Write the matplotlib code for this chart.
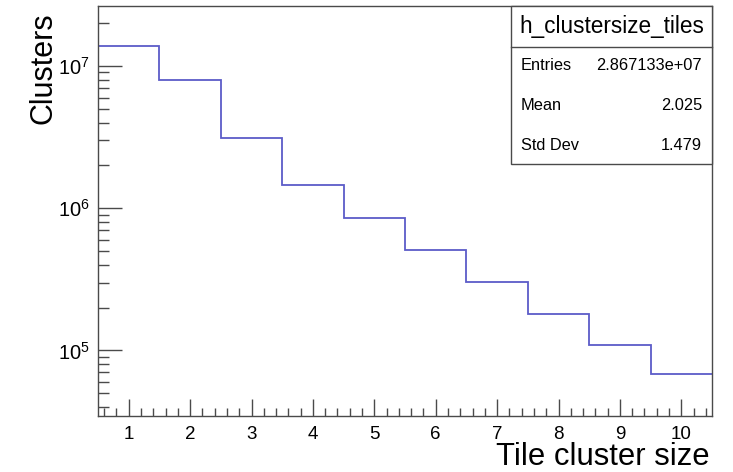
import numpy as np
import matplotlib
matplotlib.use("Agg")
import matplotlib.pyplot as plt
from matplotlib.patches import Rectangle
from matplotlib.ticker import FixedLocator, NullFormatter, FixedFormatter

plt.rcParams['font.family'] = ['Liberation Sans', 'DejaVu Sans']
plt.rcParams['mathtext.fontset'] = 'custom'
plt.rcParams['mathtext.rm'] = 'Liberation Sans'
plt.rcParams['mathtext.it'] = 'Liberation Sans'

# Histogram contents: number of clusters per tile cluster size
cluster_size = np.array([1, 2, 3, 4, 5, 6, 7, 8, 9, 10])
clusters = np.array([1.39e7, 8.01e6, 3.13e6, 1.45e6, 8.49e5,
                     5.08e5, 3.01e5, 1.81e5, 1.10e5, 6.86e4])

hist_name = "h_clustersize_tiles"
stat_names = ["Entries", "Mean", "Std Dev"]
stat_values = ["2.867133e+07", "2.025", "1.479"]

x_ticks = [1, 2, 3, 4, 5, 6, 7, 8, 9, 10]
y_ticks = [1e5, 1e6, 1e7]
y_tick_labels = [r"$10^{5}$", r"$10^{6}$", r"$10^{7}$"]

W, H = 733, 472
fig = plt.figure(figsize=(W / 100, H / 100), dpi=100)
ax = fig.add_axes([98 / W, (H - 416) / H, 614 / W, 410 / H])


def px(x, y):
    """Pixel position (from top-left) to figure fraction."""
    return x / W, (H - y) / H


edges = np.append(cluster_size - 0.5, cluster_size[-1] + 0.5)
ax.stairs(clusters, edges, baseline=None, color="#5c5cc8", linewidth=1.3)

ax.set_yscale("log")
ax.set_xlim(0.5, 10.5)
ax.set_ylim(3.46e4, 2.64e7)

frame_col = "#4a4a4a"
for side in ax.spines.values():
    side.set_color(frame_col)
    side.set_linewidth(1.0)

ax.xaxis.set_major_locator(FixedLocator(x_ticks))
ax.xaxis.set_minor_locator(FixedLocator(np.arange(0.6, 10.5, 0.2)))
ax.yaxis.set_major_locator(FixedLocator(y_ticks))
ax.yaxis.set_major_formatter(FixedFormatter(y_tick_labels))
minor_y = [m * 10.0 ** e for e in range(4, 8) for m in range(2, 10)]
ax.yaxis.set_minor_locator(FixedLocator(minor_y))
ax.yaxis.set_minor_formatter(NullFormatter())

ax.tick_params(axis="x", which="major", direction="in", length=12, width=1.0,
               color=frame_col, labelsize=13.5, pad=7)
ax.tick_params(axis="x", which="minor", direction="in", length=6, width=1.0,
               color=frame_col)
ax.tick_params(axis="y", which="major", direction="in", length=17, width=1.0,
               color=frame_col, labelsize=14.5, pad=6)
ax.tick_params(axis="y", which="minor", direction="in", length=8, width=1.0,
               color=frame_col)

# Axis titles, ROOT style: x title at the right end, y title at the top end
fig.text(*px(710, 465), "Tile cluster size", fontsize=22.3,
         ha="right", va="baseline")
fig.text(*px(52, 12), "Clusters", fontsize=22, rotation=90,
         rotation_mode="anchor", ha="right", va="baseline")

# Statistics box
bx0, bx1 = (511 - 98) / 614, 1.0
by0, by1 = (416 - 164) / 410, 1.0
ydiv = (416 - 46.7) / 410
ax.add_patch(Rectangle((bx0, by0), bx1 - bx0, by1 - by0, transform=ax.transAxes,
                       facecolor="white", edgecolor=frame_col, linewidth=1.0,
                       clip_on=False, zorder=5))
ax.plot([bx0, bx1], [ydiv, ydiv], transform=ax.transAxes, color=frame_col,
        linewidth=1.0, clip_on=False, zorder=6)
ax.text((bx0 + bx1) / 2, (1.0 + ydiv) / 2, hist_name, transform=ax.transAxes,
        ha="center", va="center", fontsize=16.3, zorder=7)
row_y = [66, 106, 146]
for name, val, yp in zip(stat_names, stat_values, row_y):
    ya = (416 - yp) / 410
    ax.text((521 - 98) / 614, ya, name, transform=ax.transAxes, ha="left",
            va="center", fontsize=11.8, zorder=7)
    ax.text((702 - 98) / 614, ya, val, transform=ax.transAxes, ha="right",
            va="center", fontsize=11.8, zorder=7)

fig.savefig("out.png", dpi=100)
